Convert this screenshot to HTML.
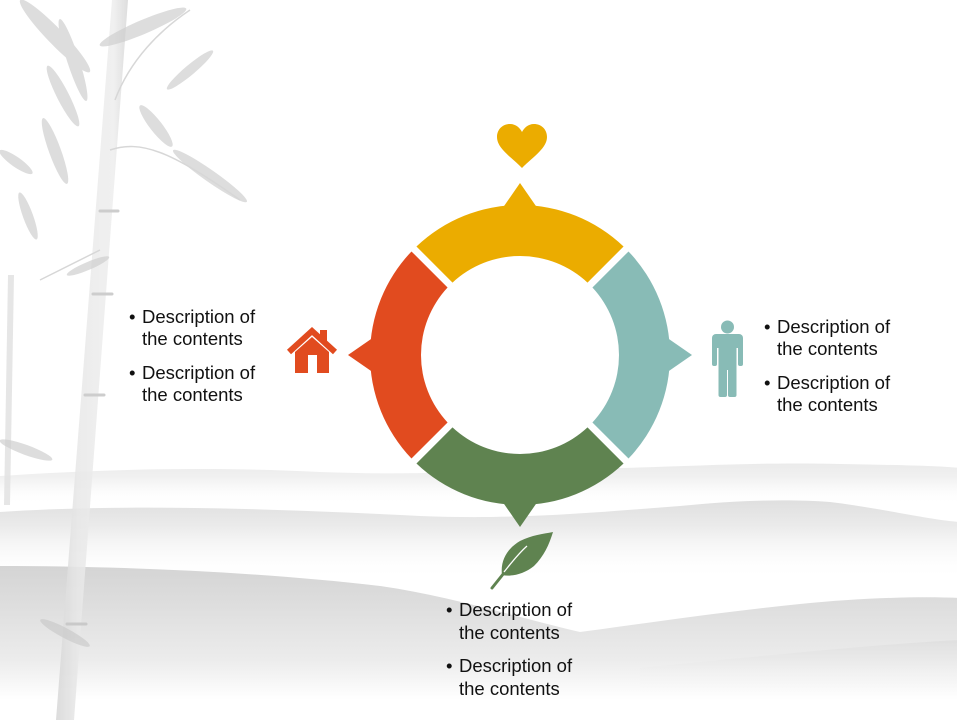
<!DOCTYPE html>
<html>
<head>
<meta charset="utf-8">
<style>
  html,body{margin:0;padding:0;background:#fff;}
  body{width:960px;height:720px;overflow:hidden;}
  svg{display:block;}
  text{font-family:"Liberation Sans", Arial, sans-serif;font-size:18.5px;fill:#111;}
</style>
</head>
<body>
<svg width="960" height="720" viewBox="0 0 960 720" xmlns="http://www.w3.org/2000/svg">
  <defs>
    <linearGradient id="gA" x1="0" y1="460" x2="0" y2="505" gradientUnits="userSpaceOnUse">
      <stop offset="0" stop-color="#e9e9e9"/>
      <stop offset="0.4" stop-color="#f1f1f1"/>
      <stop offset="1" stop-color="#ffffff" stop-opacity="0"/>
    </linearGradient>
    <linearGradient id="gB" x1="0" y1="498" x2="0" y2="580" gradientUnits="userSpaceOnUse">
      <stop offset="0" stop-color="#dedede"/>
      <stop offset="0.35" stop-color="#ebebeb"/>
      <stop offset="1" stop-color="#ffffff" stop-opacity="0"/>
    </linearGradient>
    <linearGradient id="gC" x1="0" y1="566" x2="0" y2="700" gradientUnits="userSpaceOnUse">
      <stop offset="0" stop-color="#d4d4d4"/>
      <stop offset="0.3" stop-color="#dedede"/>
      <stop offset="0.7" stop-color="#ececec"/>
      <stop offset="1" stop-color="#ffffff"/>
    </linearGradient>
    <linearGradient id="gD" x1="0" y1="640" x2="0" y2="700" gradientUnits="userSpaceOnUse">
      <stop offset="0" stop-color="#dadada" stop-opacity="0.6"/>
      <stop offset="1" stop-color="#ffffff" stop-opacity="0"/>
    </linearGradient>
    <linearGradient id="stalk" x1="0" y1="0" x2="1" y2="0">
      <stop offset="0" stop-color="#d6d6d6"/>
      <stop offset="0.3" stop-color="#e8e8e8"/>
      <stop offset="0.8" stop-color="#eeeeee"/>
      <stop offset="1" stop-color="#d8d8d8"/>
    </linearGradient>
  </defs>

  <!-- background -->
  <rect width="960" height="720" fill="#ffffff"/>

  <!-- mountains -->
  <path d="M0 476 C 90 470, 200 466, 320 472 C 420 476, 520 470, 620 468 C 700 466, 760 462, 840 464 C 900 465, 940 466, 960 468 L960 720 L0 720 Z" fill="url(#gA)"/>
  <path d="M0 512 C 120 504, 260 508, 420 516 C 520 520, 600 512, 680 506 C 740 500, 790 499, 830 502 C 880 508, 930 520, 960 522 L960 720 L0 720 Z" fill="url(#gB)"/>
  <path d="M0 566 C 120 566, 260 572, 380 586 C 450 596, 520 618, 580 632 C 640 624, 720 612, 800 604 C 860 598, 920 596, 960 598 L960 720 L0 720 Z" fill="url(#gC)"/>
  <path d="M640 668 C 760 656, 880 644, 960 640 L960 700 L640 700 Z" fill="url(#gD)"/>
  <rect x="0" y="700" width="960" height="20" fill="#ffffff"/>

  <!-- bamboo -->
  <g opacity="0.85">
    <polygon points="112,0 128,0 74,720 56,720" fill="url(#stalk)"/>
    <polygon points="8,275 14,275 10,505 4,505" fill="#e2e2e2"/>
    <g stroke="#c4c4c4" stroke-width="3" stroke-linecap="round">
      <line x1="100" y1="211" x2="118" y2="211"/>
      <line x1="93" y1="294" x2="112" y2="294"/>
      <line x1="85" y1="395" x2="104" y2="395"/>
      <line x1="67" y1="624" x2="86" y2="624"/>
    </g>
    <g fill="#c6c6c6" opacity="0.7">
      <ellipse cx="55" cy="36" rx="50" ry="8" transform="rotate(46 55 36)"/>
      <ellipse cx="73" cy="60" rx="43" ry="6" transform="rotate(72 73 60)"/>
      <ellipse cx="143" cy="27" rx="47" ry="7" transform="rotate(-23 143 27)"/>
      <ellipse cx="156" cy="126" rx="26" ry="6" transform="rotate(52 156 126)"/>
      <ellipse cx="210" cy="176" rx="45" ry="6" transform="rotate(35 210 176)"/>
      <ellipse cx="16" cy="162" rx="20" ry="5" transform="rotate(35 16 162)"/>
      <ellipse cx="55" cy="151" rx="35" ry="6" transform="rotate(70 55 151)"/>
      <ellipse cx="28" cy="216" rx="25" ry="5" transform="rotate(70 28 216)"/>
      <ellipse cx="88" cy="266" rx="23" ry="4" transform="rotate(-23 88 266)"/>
      <ellipse cx="26" cy="450" rx="28" ry="5" transform="rotate(20 26 450)"/>
      <ellipse cx="65" cy="633" rx="28" ry="5" transform="rotate(28 65 633)"/>
      <ellipse cx="63" cy="96" rx="34" ry="6" transform="rotate(63 63 96)"/>
      <ellipse cx="190" cy="70" rx="30" ry="5" transform="rotate(-40 190 70)"/>
    </g>
    <g stroke="#d0d0d0" stroke-width="1.5" fill="none">
      <path d="M110 150 C 140 140, 170 150, 240 200"/>
      <path d="M115 100 C 130 60, 160 30, 190 10"/>
      <path d="M100 250 C 80 260, 60 270, 40 280"/>
    </g>
  </g>
  <rect x="957" y="0" width="3" height="720" fill="#ffffff"/>

  <!-- ring segments -->
  <g>
    <g fill="#EBAC00">
      <path d="M416.44 246.49 A150 150 0 0 1 623.56 246.49 L587.49 282.57 A99 99 0 0 0 452.51 282.57 Z"/>
      <polygon points="502,209 520,183 538,209"/>
    </g>
    <g fill="#88BBB6" transform="rotate(90 520 355)">
      <path d="M416.44 246.49 A150 150 0 0 1 623.56 246.49 L587.49 282.57 A99 99 0 0 0 452.51 282.57 Z"/>
      <polygon points="502,209 520,183 538,209"/>
    </g>
    <g fill="#5F8350" transform="rotate(180 520 355)">
      <path d="M416.44 246.49 A150 150 0 0 1 623.56 246.49 L587.49 282.57 A99 99 0 0 0 452.51 282.57 Z"/>
      <polygon points="502,209 520,183 538,209"/>
    </g>
    <g fill="#E14B1F" transform="rotate(270 520 355)">
      <path d="M416.44 246.49 A150 150 0 0 1 623.56 246.49 L587.49 282.57 A99 99 0 0 0 452.51 282.57 Z"/>
      <polygon points="502,209 520,183 538,209"/>
    </g>
  </g>

  <!-- heart -->
  <path d="M522 168 C 510 156, 497 148, 497 137 C 497 129, 503 124, 510 124 C 516 124, 520 128, 522 132 C 524 128, 528 124, 534 124 C 541 124, 547 129, 547 137 C 547 148, 534 156, 522 168 Z" fill="#EBAC00"/>

  <!-- house -->
  <g fill="#E14B1F">
    <polyline points="289,352 312,331 335,352" fill="none" stroke="#E14B1F" stroke-width="6" stroke-linejoin="miter"/>
    <rect x="320" y="330" width="7" height="12"/>
    <path d="M295 352 L312 337 L329 352 L329 373 L317 373 L317 355 L308 355 L308 373 L295 373 Z"/>
  </g>

  <!-- person -->
  <g fill="#88BBB6">
    <circle cx="727.5" cy="327" r="6.5"/>
    <rect x="712" y="334" width="31" height="14" rx="4"/>
    <rect x="712" y="340" width="5" height="26" rx="2"/>
    <rect x="738" y="340" width="5" height="26" rx="2"/>
    <rect x="718.5" y="340" width="18" height="30"/>
    <rect x="718.5" y="360" width="8.5" height="37" rx="2"/>
    <rect x="728" y="360" width="8.5" height="37" rx="2"/>
  </g>

  <!-- leaf -->
  <g>
    <path d="M502 575 C 500 560, 508 548, 520 541 C 532 535, 543 534, 553 532 C 549 545, 544 556, 534 566 C 524 574, 512 577, 502 575 Z" fill="#5F8350"/>
    <line x1="504" y1="573" x2="492" y2="588" stroke="#5F8350" stroke-width="3" stroke-linecap="round"/>
    <path d="M504 572 C 512 562, 518 554, 527 546" stroke="#ffffff" stroke-width="1.3" fill="none"/>
  </g>

  <!-- left text -->
  <text x="129" y="323">•</text>
  <text x="142" y="323">Description of</text>
  <text x="142" y="345">the contents</text>
  <text x="129" y="379">•</text>
  <text x="142" y="379">Description of</text>
  <text x="142" y="401">the contents</text>

  <!-- right text -->
  <text x="764" y="333">•</text>
  <text x="777" y="333">Description of</text>
  <text x="777" y="355">the contents</text>
  <text x="764" y="389">•</text>
  <text x="777" y="389">Description of</text>
  <text x="777" y="411">the contents</text>

  <!-- bottom text -->
  <text x="446" y="616">•</text>
  <text x="459" y="616">Description of</text>
  <text x="459" y="639">the contents</text>
  <text x="446" y="672">•</text>
  <text x="459" y="672">Description of</text>
  <text x="459" y="695">the contents</text>
</svg>
</body>
</html>
